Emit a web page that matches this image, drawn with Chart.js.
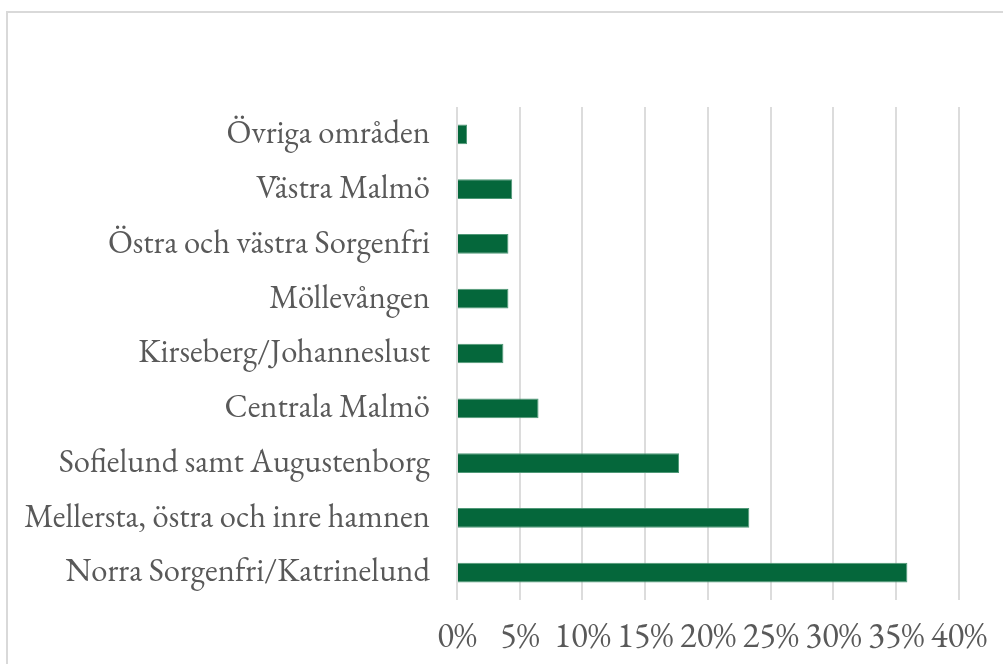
<!DOCTYPE html>
<html>
<head>
<meta charset="utf-8">
<script src="https://cdn.jsdelivr.net/npm/chart.js@4"></script>
<style>
  html, body { margin: 0; padding: 0; background: #fff; }
  body { width: 1003px; height: 664px; position: relative; overflow: hidden; }
  #frame {
    position: absolute; left: 6px; top: 11px; width: 1100px; height: 800px;
    border: 2px solid #d9d9d9; box-sizing: border-box;
  }
  #wrap { position: absolute; left: 0; top: 0; width: 1003px; height: 664px; }
</style>
</head>
<body>
<div id="frame"></div>
<div id="wrap"><canvas id="chart"></canvas></div>
<script>
// Andel per område (%), uppifrån och ned
const areas = [
  'Övriga områden',
  'Västra Malmö',
  'Östra och västra Sorgenfri',
  'Möllevången',
  'Kirseberg/Johanneslust',
  'Centrala Malmö',
  'Sofielund samt Augustenborg',
  'Mellersta, östra och inre hamnen',
  'Norra Sorgenfri/Katrinelund'
];
const shares = [0.8, 4.4, 4.1, 4.1, 3.7, 6.5, 17.7, 23.3, 35.9];
const axisMax = 40;
const axisStep = 5;

const serif = "Garamond, 'EB Garamond', 'Liberation Serif', 'DejaVu Serif', serif";
const textGray = '#595959';

new Chart(document.getElementById('chart'), {
    type: 'bar',
    data: {
        labels: areas,
        datasets: [{
            data: shares,
            backgroundColor: '#05673b',
            borderColor: '#4f9877',
            borderWidth: 1,
            categoryPercentage: 1,
            barPercentage: 0.36
        }]
    },
    options: {
        indexAxis: 'y',
        responsive: true,
        maintainAspectRatio: false,
        animation: false,
        layout: { padding: { top: 107, right: 44, bottom: 0, left: 0 } },
        plugins: { legend: { display: false }, tooltip: { enabled: false } },
        scales: {
            x: {
                min: 0,
                max: axisMax,
                ticks: {
                    stepSize: axisStep,
                    padding: 16,
                    color: textGray,
                    font: { family: serif, size: 35 },
                    maxRotation: 0,
                    autoSkip: false,
                    callback: v => v + '%'
                },
                grid: { color: '#dcdcdc', lineWidth: 2, drawTicks: false },
                border: { display: false },
                afterFit: s => { s.height = 64; }
            },
            y: {
                ticks: {
                    padding: 27,
                    color: textGray,
                    font: { family: serif, size: 32.6 }
                },
                grid: { display: false, drawTicks: false },
                border: { display: false },
                afterFit: s => { s.width = 457; }
            }
        }
    }
});
</script>
</body>
</html>
